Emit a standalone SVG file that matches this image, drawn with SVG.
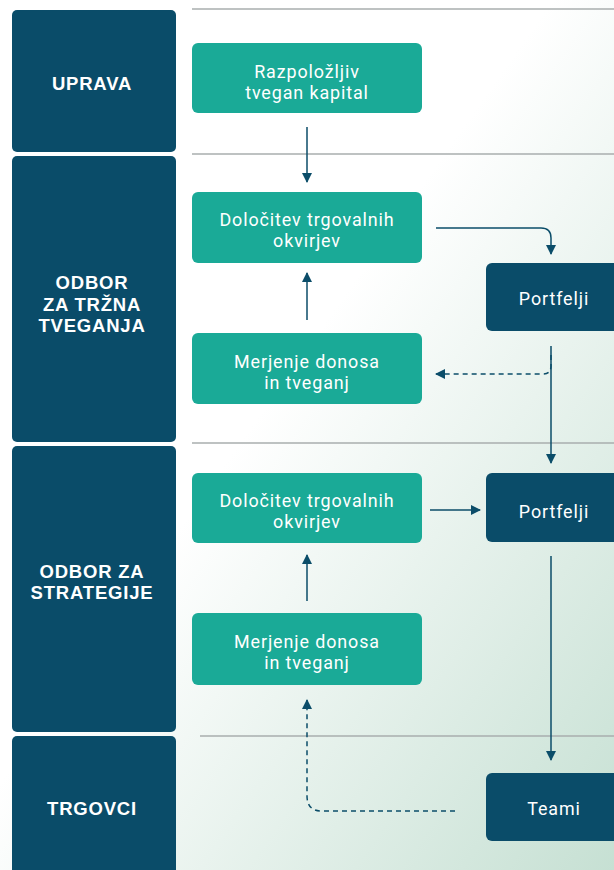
<svg xmlns="http://www.w3.org/2000/svg" width="614" height="870" viewBox="0 0 614 870">
<defs>
<linearGradient id="bg" x1="0" y1="0" x2="1" y2="1" gradientUnits="objectBoundingBox">
<stop offset="0.45" stop-color="#ffffff"/>
<stop offset="1" stop-color="#c6e0d3"/>
</linearGradient>
<marker id="ah" viewBox="0 0 10 10" refX="9" refY="5" markerWidth="10" markerHeight="10" markerUnits="userSpaceOnUse" orient="auto">
<path d="M0,0 L10,5 L0,10 z" fill="#0b4d69"/>
</marker>
<style>
.lane{fill:#0a4c69}
.lt{fill:#ffffff;font-family:"Liberation Sans","Open Sans",sans-serif;font-weight:700;font-size:18.5px;letter-spacing:0.8px;text-anchor:middle}
.g{fill:#1aaa97}
.d{fill:#0a4c69}
.nt{fill:#ffffff;font-family:Roboto,"Liberation Sans",sans-serif;font-weight:400;font-size:17.9px;letter-spacing:0.9px;text-anchor:middle}
.sep{stroke:#a9aeae;stroke-width:1.5}
.c{fill:none;stroke:#0b4d69;stroke-width:1.5}
.dash{stroke-dasharray:5,4}
</style>
</defs>
<rect width="614" height="870" fill="url(#bg)"/>
<g id="separators">
<line class="sep" x1="192" y1="9" x2="614" y2="9"/>
<line class="sep" x1="192" y1="154" x2="614" y2="154"/>
<line class="sep" x1="192" y1="443" x2="614" y2="443"/>
<line class="sep" x1="200" y1="736" x2="614" y2="736"/>
</g>
<g id="lane-uprava"><rect class="lane" x="12" y="10" width="164" height="142" rx="5"/><text class="lt" x="92" y="90">UPRAVA</text></g>
<g id="lane-trzna"><rect class="lane" x="12" y="156" width="164" height="286" rx="5"/><text class="lt"><tspan x="92" y="289">ODBOR</tspan><tspan x="92" y="311">ZA TRŽNA</tspan><tspan x="92" y="332">TVEGANJA</tspan></text></g>
<g id="lane-strategije"><rect class="lane" x="12" y="446" width="164" height="286" rx="5"/><text class="lt"><tspan x="92" y="578">ODBOR ZA</tspan><tspan x="92" y="599">STRATEGIJE</tspan></text></g>
<g id="lane-trgovci"><rect class="lane" x="12" y="736" width="164" height="140" rx="5"/><text class="lt" x="92" y="815">TRGOVCI</text></g>
<g id="n-kapital"><rect class="g" x="192" y="43" width="230" height="70" rx="6"/><text class="nt"><tspan x="307" y="78">Razpoložljiv</tspan><tspan x="307" y="99">tvegan kapital</tspan></text></g>
<g id="n-dol1"><rect class="g" x="192" y="192" width="230" height="71" rx="6"/><text class="nt"><tspan x="307" y="226">Določitev trgovalnih</tspan><tspan x="307" y="247">okvirjev</tspan></text></g>
<g id="n-mer1"><rect class="g" x="192" y="333" width="230" height="71" rx="6"/><text class="nt"><tspan x="307" y="368">Merjenje donosa</tspan><tspan x="307" y="389">in tveganj</tspan></text></g>
<g id="n-dol2"><rect class="g" x="192" y="473" width="230" height="70" rx="6"/><text class="nt"><tspan x="307" y="507">Določitev trgovalnih</tspan><tspan x="307" y="528">okvirjev</tspan></text></g>
<g id="n-mer2"><rect class="g" x="192" y="613" width="230" height="72" rx="6"/><text class="nt"><tspan x="307" y="648">Merjenje donosa</tspan><tspan x="307" y="669">in tveganj</tspan></text></g>
<g id="n-port1"><rect class="d" x="486" y="263" width="140" height="68" rx="6"/><text class="nt" x="554" y="305">Portfelji</text></g>
<g id="n-port2"><rect class="d" x="486" y="473" width="140" height="69" rx="6"/><text class="nt" x="554" y="518">Portfelji</text></g>
<g id="n-teami"><rect class="d" x="486" y="773" width="140" height="68" rx="6"/><text class="nt" x="554" y="815">Teami</text></g>
<g id="connectors">
<line class="c" x1="307" y1="127" x2="307" y2="182" marker-end="url(#ah)"/>
<line class="c" x1="307" y1="320" x2="307" y2="273" marker-end="url(#ah)"/>
<path class="c" d="M436,228 H541 Q551,228 551,238 V254" marker-end="url(#ah)"/>
<line class="c" x1="551" y1="346" x2="551" y2="463" marker-end="url(#ah)"/>
<path class="c dash" d="M551,355 V366 Q551,374 543,374 H436" marker-end="url(#ah)"/>
<line class="c" x1="430" y1="510" x2="480" y2="510" marker-end="url(#ah)"/>
<line class="c" x1="551" y1="556" x2="551" y2="760" marker-end="url(#ah)"/>
<line class="c" x1="307" y1="601" x2="307" y2="555" marker-end="url(#ah)"/>
<path class="c dash" d="M455,811 H322 Q307,811 307,796 V700" marker-end="url(#ah)"/>
</g>
</svg>
